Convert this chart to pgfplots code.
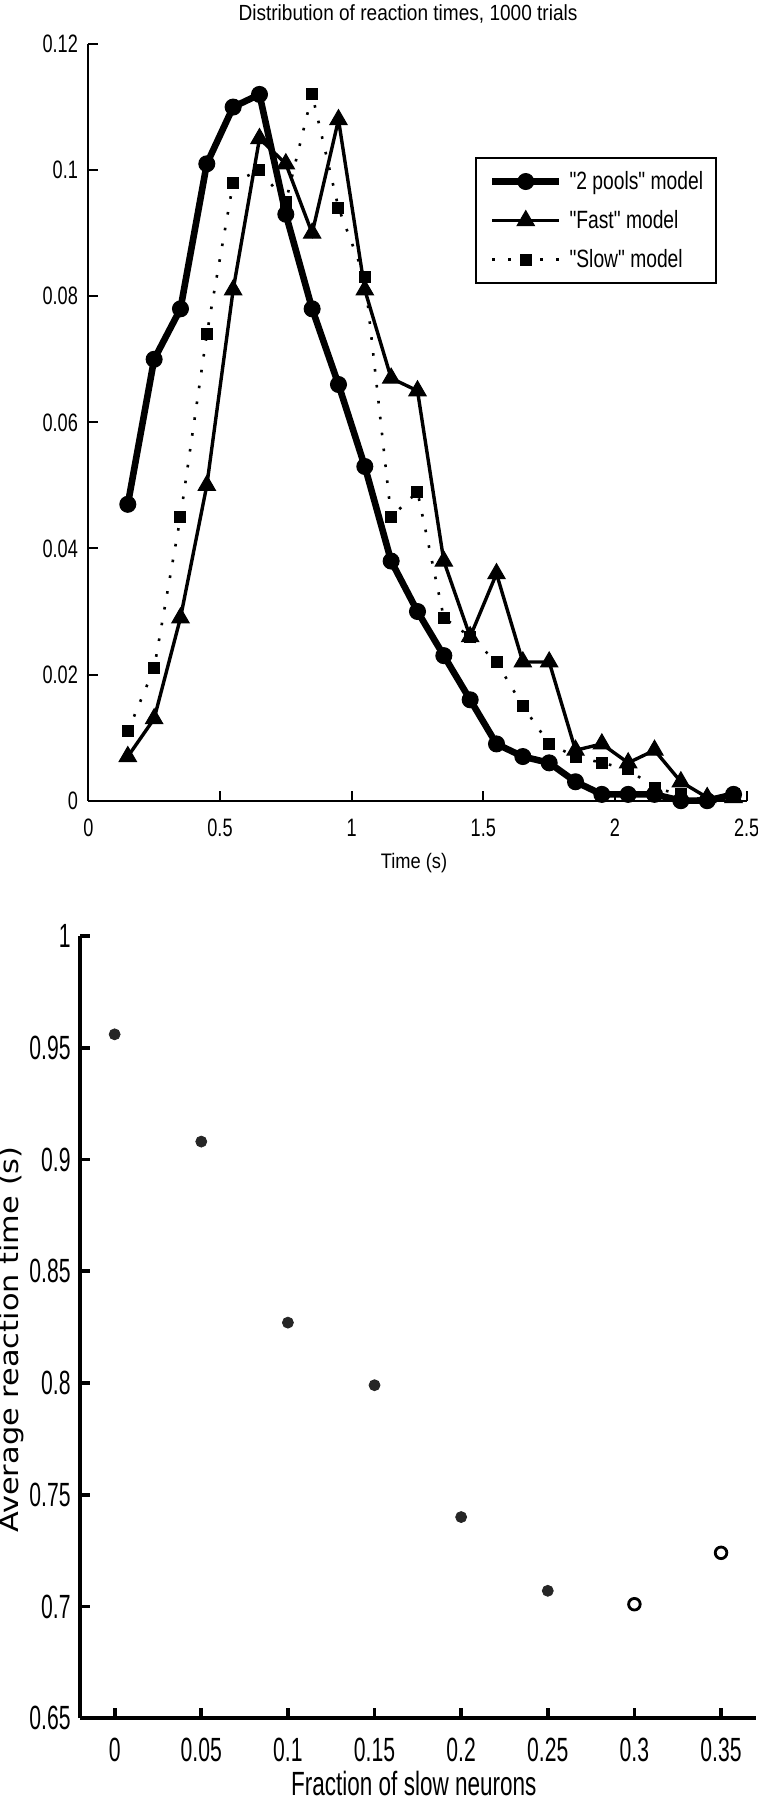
\documentclass[border=0pt]{standalone}
\usepackage{fontspec}
\usepackage{pgfplots}
\pgfplotsset{compat=1.18}
\setmainfont{Liberation Sans}
\newfontfamily\tickA{Liberation Sans}[FakeStretch=0.72]
\newfontfamily\titleF{Liberation Sans}[FakeStretch=0.87]
\newfontfamily\legF{Liberation Sans}[FakeStretch=0.77]
\newfontfamily\tickB{Liberation Sans}[FakeStretch=0.63]
\newfontfamily\xlabB{Liberation Sans}[FakeStretch=0.67]
\newfontfamily\ylabB{DejaVu Sans}[FakeStretch=1.17]

\pgfplotstableread{
x     pools  fast    slow
0.15  0.047  0.007   0.011
0.25  0.070  0.013   0.021
0.35  0.078  0.029   0.045
0.45  0.101  0.050   0.074
0.55  0.110  0.081   0.098
0.65  0.112  0.105   0.100
0.75  0.093  0.101   0.095
0.85  0.078  0.090   0.112
0.95  0.066  0.108   0.094
1.05  0.053  0.081   0.083
1.15  0.038  0.067   0.045
1.25  0.030  0.065   0.049
1.35  0.023  0.038   0.029
1.45  0.016  0.026   0.026
1.55  0.009  0.036   0.022
1.65  0.007  0.022   0.015
1.75  0.006  0.022   0.009
1.85  0.003  0.008   0.007
1.95  0.001  0.009   0.006
2.05  0.001  0.006   0.005
2.15  0.001  0.008   0.002
2.25  0.000  0.003   0.001
2.35  0.000  0.0005  0.000
2.45  0.001  0.0005  0.001
}\distdata

\begin{document}
\begin{tikzpicture}
\path[use as bounding box] (0,0) rectangle (378.5pt,900pt);
\begin{axis}[
  at={(44.15pt,499.65pt)}, anchor=south west,
  scale only axis, width=329.2pt, height=378.35pt,
  xmin=0, xmax=2.5, ymin=0, ymax=0.12,
  axis x line*=bottom, axis y line*=left,
  tick align=inside,
  axis line style={line width=1pt},
  major tick style={line width=1pt, black},
  major tick length=5pt,
  xtick={0,0.5,1,1.5,2,2.5}, xticklabels={0,0.5,1,1.5,2,2.5},
  ytick={0,0.02,0.04,0.06,0.08,0.1,0.12},
  yticklabels={0,0.02,0.04,0.06,0.08,0.1,0.12},
  scaled ticks=false,
  /pgf/number format/assume math mode=true,
  tick label style={font={\tickA\fontsize{12.6pt}{14pt}\selectfont}},
  xticklabel style={anchor=north, inner sep=0pt, yshift=-8.8pt},
  yticklabel style={anchor=east, inner sep=0pt, xshift=-5pt},
  every axis title shift=0pt,
  title={Distribution of reaction times, 1000 trials},
  title style={at={(axis description cs:0.4856,1.0308)}, anchor=base, inner sep=0pt,
    font={\titleF\fontsize{10.95pt}{13pt}\selectfont}},
  xlabel={Time (s)},
  xlabel style={at={(axis description cs:0.4947,-0.0896)}, anchor=base, inner sep=0pt,
    font={\titleF\fontsize{10.5pt}{13pt}\selectfont}},
  clip=false,
  legend cell align=left,
  legend image code/.code={\draw[mark repeat=2,mark phase=2,#1] plot coordinates {(0pt,0pt) (16.75pt,0pt) (33.5pt,0pt)};},
  legend style={at={(axis description cs:0.5873,0.8507)}, anchor=north west,
    draw=black, line width=1pt, fill=white,
    inner xsep=6.5pt, inner ysep=6.5pt, row sep=9pt,
    font={\legF\fontsize{12.5pt}{14pt}\selectfont},
    nodes={inner sep=0pt},
    /tikz/every odd column/.append style={column sep=3.5pt}},
]
\addplot[black, line width=3.3pt, mark=*, mark size=4pt,
  mark options={solid, line width=0.5pt, fill=black}] table[x=x, y=pools] {\distdata};
\addlegendentry{"2 pools" model}
\addplot[black, line width=1.7pt, mark=triangle*, mark size=5pt,
  mark options={solid, line width=0.5pt, fill=black}] table[x=x, y=fast] {\distdata};
\addlegendentry{"Fast" model}
\addplot[black, line width=1.3pt, dash pattern=on 1.3pt off 6.7pt, mark=square*, mark size=2.75pt,
  mark options={solid, line width=0.5pt, fill=black}] table[x=x, y=slow] {\distdata};
\addlegendentry{"Slow" model}
\end{axis}

\begin{axis}[
  at={(40pt,40.9pt)}, anchor=south west,
  scale only axis, width=337.85pt, height=391.1pt,
  xmin=-0.02, xmax=0.37, ymin=0.65, ymax=1,
  axis x line*=bottom, axis y line*=left,
  tick align=inside,
  axis line style={line width=1.9pt},
  major tick style={line width=1.9pt, black},
  major tick length=5pt,
  xtick={0,0.05,0.1,0.15,0.2,0.25,0.3,0.35},
  xticklabels={0,0.05,0.1,0.15,0.2,0.25,0.3,0.35},
  ytick={0.65,0.7,0.75,0.8,0.85,0.9,0.95,1},
  yticklabels={0.65,0.7,0.75,0.8,0.85,0.9,0.95,1},
  scaled ticks=false,
  /pgf/number format/assume math mode=true,
  tick label style={font={\tickB\fontsize{16.8pt}{19pt}\selectfont}},
  xticklabel style={anchor=north, inner sep=0pt, yshift=-9.5pt},
  yticklabel style={anchor=east, inner sep=0pt, xshift=-4.5pt},
  xlabel={Fraction of slow neurons},
  xlabel style={at={(axis description cs:0.494,-0.0985)}, anchor=base, inner sep=0pt,
    font={\xlabB\fontsize{16.8pt}{19pt}\selectfont}},
  ylabel={Average reaction time (s)},
  ylabel style={at={(axis description cs:-0.0903,0.484)}, anchor=base, inner sep=0pt,
    font={\ylabB\fontsize{13pt}{15pt}\selectfont}},
  clip=false,
]
\addplot[only marks, mark=*, mark size=2.75pt, black!85] coordinates {
  (0,0.956) (0.05,0.908) (0.1,0.827) (0.15,0.799) (0.2,0.740) (0.25,0.707)};
\addplot[only marks, mark=o, mark size=2.9pt, line width=1.4pt, black] coordinates {
  (0.3,0.701) (0.35,0.724)};
\end{axis}
\end{tikzpicture}
\end{document}
